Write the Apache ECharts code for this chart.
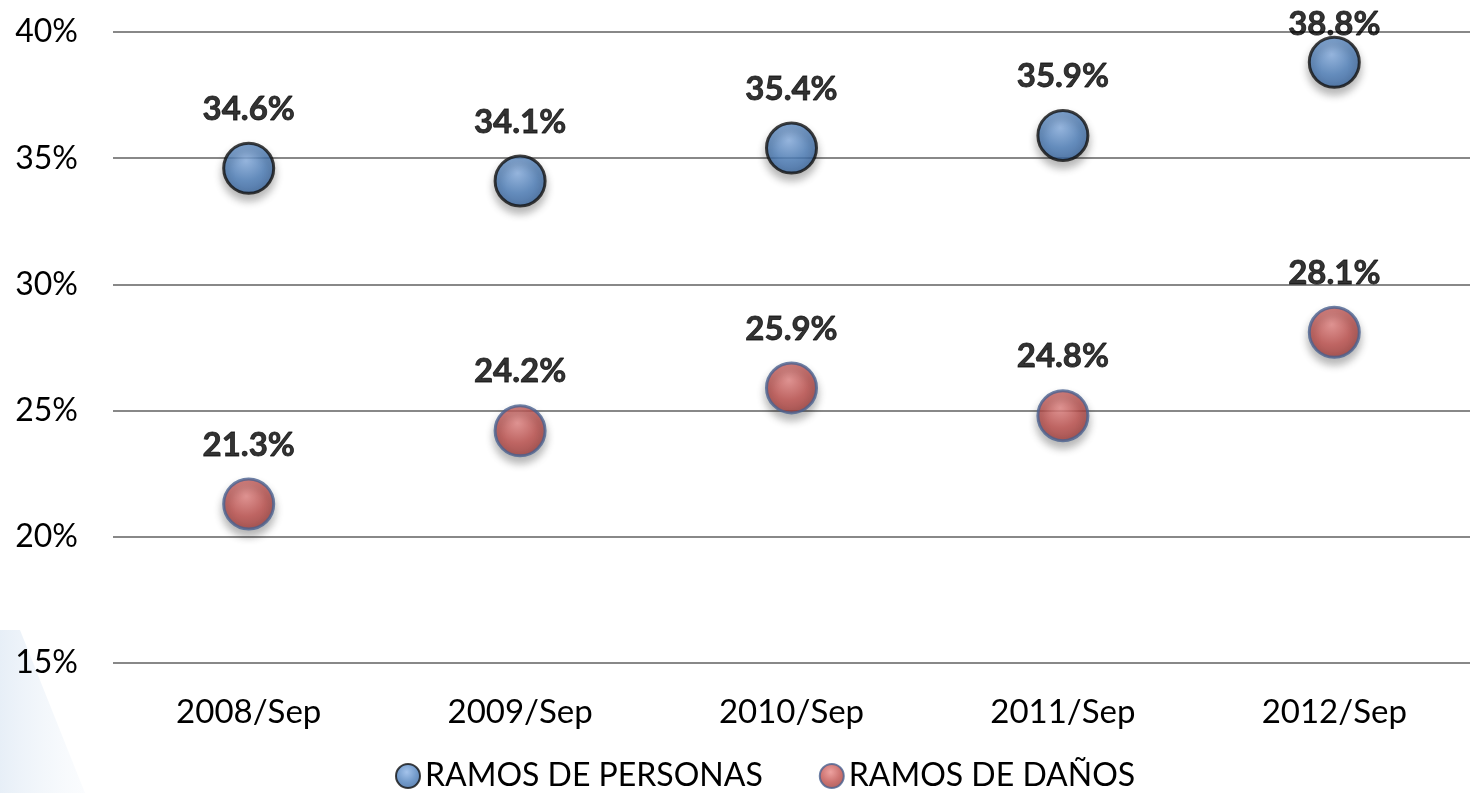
<!DOCTYPE html>
<html>
<head>
<meta charset="utf-8">
<script src="https://cdn.jsdelivr.net/npm/echarts@6/dist/echarts.min.js"></script>
<style>
	html, body { margin: 0; padding: 0; background: #fff; }
	#chart { width: 1470px; height: 793px; }
</style>
</head>
<body>
<div id="chart"></div>
<script>
// data
var categories = ["2008/Sep", "2009/Sep", "2010/Sep", "2011/Sep", "2012/Sep"];
var personas = [34.6, 34.1, 35.4, 35.9, 38.8];
var danos = [21.3, 24.2, 25.9, 24.8, 28.1];
var seriesNames = ["RAMOS DE PERSONAS", "RAMOS DE DAÑOS"];

var FONT = "Lato";

function ball(light, mid, dark) {
	return new echarts.graphic.RadialGradient(0.45, 0.35, 0.7, [
		{ offset: 0, color: light },
		{ offset: 0.55, color: mid },
		{ offset: 1, color: dark },
	]);
}

function makeSeries(name, data, color, border) {
	// the top label sits lower when it would leave the chart
	var items = data.map(function (v) {
		if (v > 38) {
			return { value: v, label: { distance: -5 } };
		}
		return v;
	});
	return {
		name: name,
		type: "scatter",
		data: items,
		symbol: "circle",
		symbolSize: 50,
		itemStyle: {
			color: color,
			borderColor: border,
			borderWidth: 3,
			shadowBlur: 8,
			shadowOffsetY: 6,
			shadowColor: "rgba(0,0,0,0.35)",
		},
		label: {
			show: true,
			position: "top",
			distance: 16,
			formatter: function (p) {
				return p.value.toFixed(1) + "%";
			},
			color: "#000",
			textBorderColor: "#000",
			textBorderWidth: 0.8,
			fontFamily: FONT,
			fontWeight: "bold",
			fontSize: 33,
		},
	};
}

var myChart = echarts.init(document.getElementById("chart"));
myChart.setOption({
	animation: false,
	backgroundColor: "#fff",
	graphic: [
		{
			type: "polygon",
			z: -10,
			shape: { points: [[0, 630], [20, 630], [85, 793], [0, 793]] },
			style: {
				fill: new echarts.graphic.LinearGradient(0, 0, 1, 0, [
					{ offset: 0, color: "rgba(215,228,242,0.6)" },
					{ offset: 1, color: "rgba(240,245,251,0.3)" },
				]),
			},
		},
	],
	grid: {
		left: 113,
		right: -12,
		top: 32,
		bottom: 130,
	},
	legend: {
		left: 390,
		bottom: -4,
		icon: "circle",
		itemWidth: 24,
		itemHeight: 24,
		itemGap: 56,
		textStyle: {
			fontFamily: FONT,
			fontSize: 32,
			color: "#000",
		},
		data: seriesNames,
	},
	xAxis: {
		type: "category",
		data: categories,
		axisLine: { show: false },
		axisTick: { show: false },
		axisLabel: {
			margin: 33,
			fontFamily: FONT,
			fontSize: 33,
			color: "#000",
		},
	},
	yAxis: {
		type: "value",
		min: 15,
		max: 40,
		interval: 5,
		axisLine: { show: false },
		axisTick: { show: false },
		splitLine: {
			lineStyle: { color: "#888", width: 2 },
		},
		axisLabel: {
			margin: 35,
			formatter: "{value}%",
			fontFamily: FONT,
			fontSize: 32,
			color: "#000",
		},
	},
	series: [
		makeSeries(seriesNames[0], personas, ball("#8db4e6", "#4f81bd", "#34609a"), "#111"),
		makeSeries(seriesNames[1], danos, ball("#e88a88", "#c0504d", "#973734"), "#4a6290"),
	],
});
</script>
</body>
</html>
